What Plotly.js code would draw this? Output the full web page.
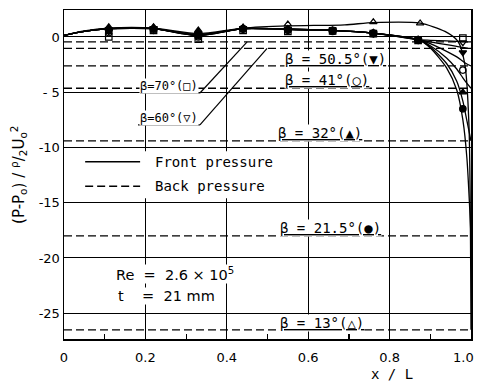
<!DOCTYPE html>
<html>
<head>
<meta charset="utf-8">
<script src="https://cdn.plot.ly/plotly-3.0.1.min.js"></script>
<style>html,body{margin:0;padding:0;background:#fff;}#chart{width:479px;height:383px;}</style>
</head>
<body>
<div id="chart"></div>
<script>
// ---- data ----
const betaNames = ["70", "60", "50.5", "41", "32", "21.5", "13"];
const backPressure = [-0.45, -1.04, -2.62, -4.64, -9.41, -18.0, -26.5];

const curveX = [0, 0.05, 0.11, 0.22, 0.33, 0.44, 0.55, 0.66, 0.76, 0.87, 0.9, 0.94, 0.965, 0.98, 0.99, 1.0];
const curveY70  = [0.15, 0.5, 0.75, 0.75, 0.12, 0.75, 0.7, 0.6, 0.35, -0.25, -0.3, -0.35, -0.4, -0.42, -0.44, -0.45];
const curveY60  = [0.15, 0.5, 0.75, 0.75, 0.12, 0.75, 0.7, 0.6, 0.35, -0.25, -0.45, -0.7, -0.85, -0.95, -1.0, -1.04];
const curveY505 = [0.15, 0.5, 0.75, 0.75, 0.15, 0.75, 0.7, 0.6, 0.35, -0.25, -0.6, -1.3, -1.8, -2.2, -2.45, -2.62];
const curveY41  = [0.15, 0.5, 0.75, 0.75, 0.15, 0.75, 0.7, 0.6, 0.35, -0.25, -0.8, -1.9, -2.9, -3.7, -4.2, -4.64];
const curveY32  = [0.15, 0.5, 0.75, 0.75, 0.2, 0.75, 0.7, 0.6, 0.35, -0.25, -0.9, -2.4, -4.0, -5.8, -7.6, -9.41];
const curveY215 = [0.15, 0.5, 0.75, 0.75, 0.2, 0.75, 0.7, 0.6, 0.35, -0.25, -1.0, -2.8, -4.8, -7.5, -11.0, -18.0];
const curveX13  = [0, 0.05, 0.11, 0.22, 0.33, 0.44, 0.55, 0.69, 0.76, 0.875, 0.936, 0.968, 0.985, 0.995, 1.0];
const curveY13  = [0.15, 0.55, 0.8, 0.8, 0.3, 0.8, 1.0, 1.1, 1.3, 1.25, 0.5, -0.4, -2.5, -8.0, -26.5];

const markX = [0.11, 0.22, 0.33, 0.44, 0.55, 0.66, 0.76, 0.87, 0.98];
const markY70  = [0.0, 0.6, -0.2, 0.6, 0.5, 0.55, 0.3, -0.3, -0.1];
const markY60  = [0.7, 0.8, 0.3, 0.8, 0.65, 0.55, 0.3, -0.25, -0.5];
const markY505 = [0.5, 0.75, 0.2, 0.7, 0.7, 0.6, 0.35, -0.3, -1.4];
const markY41  = [0.4, 0.6, 0.0, 0.7, 0.6, 0.5, 0.3, -0.3, -3.0];
const markY32  = [0.8, 0.85, 0.5, 0.85, 0.75, 0.6, 0.4, -0.2, -5.0];
const markY215 = [0.6, 0.7, 0.1, 0.75, 0.65, 0.6, 0.35, -0.25, -6.5];
const markX13  = [0.11, 0.22, 0.33, 0.44, 0.55, 0.76, 0.875];
const markY13  = [0.9, 0.9, 0.6, 0.85, 1.15, 1.35, 1.25];

const xTickVals = [0, 0.2, 0.4, 0.6, 0.8];
const xTickText = ["0", "0.2", "0.4", "0.6", "0.8"];
const xEndLabel = "1.0";
const xMinorVals = [0.1, 0.3, 0.5, 0.7, 0.9];
const yTickVals = [0, -5, -10, -15, -20, -25];
const yTickText = ["0", "- 5", "-10", "-15", "-20", "-25"];

// ---- build ----
const FONT = "DejaVu Sans";
const MONO = "DejaVu Sans Mono";
const traces = [];
backPressure.forEach(v => {
  traces.push({x: [0, 1], y: [v, v], xaxis: "x2", mode: "lines", showlegend: false, hoverinfo: "skip",
    line: {color: "#000", width: 1.3, dash: "8px,4px"}});
});
const curves = [
  [curveX, curveY70], [curveX, curveY60], [curveX, curveY505], [curveX, curveY41],
  [curveX, curveY32], [curveX, curveY215], [curveX13, curveY13]
];
curves.forEach(c => {
  traces.push({x: c[0], y: c[1], mode: "lines", showlegend: false, hoverinfo: "skip",
    line: {color: "#000", width: 1.3, shape: "spline", smoothing: 0.7}});
});
const marks = [
  [markX, markY70, "square-open"], [markX, markY60, "triangle-down-open"],
  [markX, markY505, "triangle-down"], [markX, markY41, "circle-open"],
  [markX, markY32, "triangle-up"], [markX, markY215, "circle"],
  [markX13, markY13, "triangle-up-open"]
];
marks.forEach(m => {
  traces.push({x: m[0], y: m[1], mode: "markers", showlegend: false, hoverinfo: "skip",
    marker: {symbol: m[2], size: 6.5, color: "#000", line: {color: "#000", width: 1.2}}});
});

function lab(text, x, y, size) {
  return {text: text, x: x, y: y, xref: "x", yref: "y", showarrow: false,
    font: {family: MONO, size: size || 14, color: "#000"}, bgcolor: "#fff", borderpad: 0,
    xanchor: "center", yanchor: "middle"};
}
const annotations = [
  lab("<u>β = 50.5°(▼)</u>", 0.668, -2.0),
  lab("<u>β = 41°(○)</u>", 0.646, -3.85),
  lab("β=70°(□)", 0.258, -4.4, 12),
  lab("β=60°(▽)", 0.258, -7.3, 12),
  lab("<u>β = 32°(▲)</u>", 0.629, -8.65),
  lab("<u>β = 21.5°(●)</u>", 0.654, -17.3),
  lab("<u>β = 13°(△)</u>", 0.634, -25.85),
  {text: "Re  =  2.6 × 10<sup>5</sup>", x: 0.125, y: -21.45, xref: "x", yref: "y", showarrow: false,
    xanchor: "left", yanchor: "middle", font: {family: FONT, size: 14.5, color: "#000"}, bgcolor: "#fff", borderpad: 0},
  {text: "t    =  21 mm", x: 0.13, y: -23.45, xref: "x", yref: "y", showarrow: false,
    xanchor: "left", yanchor: "middle", font: {family: FONT, size: 14.5, color: "#000"}, bgcolor: "#fff", borderpad: 0},
  {text: "Front pressure", x: 0.218, y: -11.3, xref: "x", yref: "y", showarrow: false,
    xanchor: "left", yanchor: "middle", font: {family: MONO, size: 14, color: "#000"}},
  {text: "Back pressure", x: 0.218, y: -13.5, xref: "x", yref: "y", showarrow: false,
    xanchor: "left", yanchor: "middle", font: {family: MONO, size: 14, color: "#000"}},
  {text: xEndLabel, x: 1.0135, y: -0.055, xref: "paper", yref: "paper", showarrow: false,
    xanchor: "right", yanchor: "middle", font: {family: FONT, size: 13, color: "#000"}},
  {text: "x / L", x: 0.806, y: -0.105, xref: "paper", yref: "paper", showarrow: false,
    xanchor: "center", yanchor: "middle", font: {family: MONO, size: 14, color: "#000"}},
  {text: "(P-P<sub>o</sub>) / <sup>ρ</sup>/<sub>2</sub>U<sub>o</sub><sup>2</sup>", x: -0.112, y: 0.5,
    xref: "paper", yref: "paper", showarrow: false, textangle: -90,
    xanchor: "center", yanchor: "middle", font: {family: FONT, size: 15, color: "#000"}}
];

const shapes = [
  {type: "rect", xref: "x", yref: "y", x0: 0.01, x1: 0.53, y0: -10.35, y1: -14.6,
    fillcolor: "#fff", line: {width: 0}, layer: "between"},
  {type: "line", xref: "x", yref: "y", x0: 0.052, x1: 0.187, y0: -11.3, y1: -11.3, line: {color: "#000", width: 1.5}},
  {type: "line", xref: "x", yref: "y", x0: 0.052, x1: 0.187, y0: -13.5, y1: -13.5, line: {color: "#000", width: 1.5, dash: "8px,4px"}},
  {type: "line", xref: "x", yref: "y", x0: 0.187, x1: 0.334, y0: -5.07, y1: -5.07, line: {color: "#000", width: 1.2}},
  {type: "line", xref: "x", yref: "y", x0: 0.334, x1: 0.45, y0: -5.07, y1: -0.45, line: {color: "#000", width: 1.2}},
  {type: "line", xref: "x", yref: "y", x0: 0.182, x1: 0.334, y0: -7.96, y1: -7.96, line: {color: "#000", width: 1.2}},
  {type: "line", xref: "x", yref: "y", x0: 0.334, x1: 0.499, y0: -7.96, y1: -1.04, line: {color: "#000", width: 1.2}}
];

const layout = {
  width: 479, height: 383,
  margin: {l: 64, r: 8, t: 10, b: 44},
  paper_bgcolor: "#fff", plot_bgcolor: "#fff",
  showlegend: false,
  font: {family: FONT, size: 13, color: "#000"},
  xaxis: {range: [0, 1.0], tickvals: xTickVals, ticktext: xTickText, showgrid: true,
    gridcolor: "#000", gridwidth: 1, zeroline: false, showline: true, mirror: true,
    linecolor: "#000", linewidth: 1.5, ticks: "", ticklabelstandoff: 6,
    tickfont: {family: FONT, size: 13, color: "#000"}},
  xaxis2: {range: [0, 1.0], overlaying: "x", anchor: "y", side: "bottom", tickvals: xMinorVals,
    ticks: "inside", ticklen: 5, tickwidth: 1.2, tickcolor: "#000", showticklabels: false,
    showgrid: false, zeroline: false, showline: false},
  yaxis: {range: [-27.33, 2.44], tickvals: yTickVals, ticktext: yTickText, showgrid: true,
    gridcolor: "#000", gridwidth: 1, zeroline: false, showline: true, mirror: true,
    linecolor: "#000", linewidth: 1.5, ticks: "",
    tickfont: {family: FONT, size: 13, color: "#000"}},
  annotations: annotations,
  shapes: shapes
};
Plotly.newPlot("chart", traces, layout, {staticPlot: true, displayModeBar: false});
</script>
</body>
</html>
